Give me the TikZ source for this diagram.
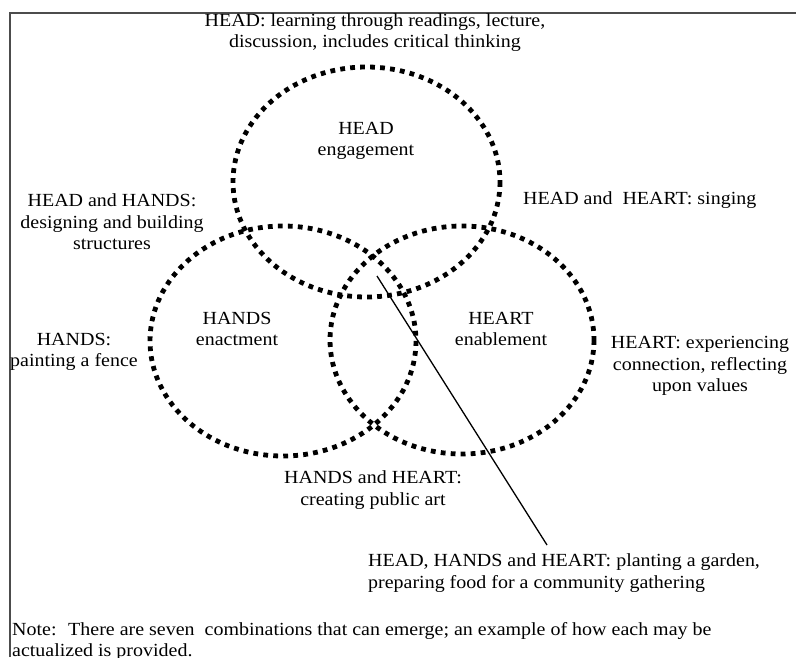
\documentclass[tikz,border=0pt]{standalone}
\usepackage{fontspec}
\setmainfont{Liberation Serif}[FakeStretch=1.08]
\begin{document}
\begin{tikzpicture}[x=1pt,y=-1pt,
  lbl/.style={font=\fontsize{18.5}{21.5}\selectfont, align=center, inner sep=0pt},
  dotring/.style={line width=4.8pt, dash pattern=on 4.8pt off 5.2pt, black},
  frameline/.style={line width=1.6pt, black!70}]
\useasboundingbox (0,0) rectangle (796,657);
% frame
\draw[frameline] (10,657) -- (10,13) -- (796,13);
% circles
\draw[dotring] (366.5,182) ellipse [x radius=133.5, y radius=115];
\draw[dotring] (283,341) ellipse [x radius=133, y radius=115];
\draw[dotring] (462,340) ellipse [x radius=132, y radius=114];
% labels
\node[lbl] (headtop) at (375,32.5) {HEAD: learning through readings, lecture,\\discussion, includes critical thinking};
\node[lbl] (head) at (366,141) {HEAD\\engagement};
\node[lbl] (headhands) at (112,222) {HEAD and HANDS:\\designing and building\\structures};
\node[lbl, anchor=west] (headheart) at (523,200) {HEAD and \ HEART: singing};
\node[lbl] (hands) at (237,329) {HANDS\\enactment};
\node[lbl] (heart) at (501,329) {HEART\\enablement};
\node[lbl] (handsonly) at (74,352) {HANDS:\\painting a fence};
\node[lbl] (heartonly) at (700,366) {HEART: experiencing\\connection, reflecting\\upon values};
\node[lbl] (handsheart) at (373,490) {HANDS and HEART:\\creating public art};
\node[lbl, anchor=west, align=left] (all) at (368,573) {HEAD, HANDS and HEART: planting a garden,\\preparing food for a community gathering};
\node[lbl, anchor=north west, align=left] (note) at (12,622) {Note: \ There are seven \ combinations that can emerge; an example of how each may be\\actualized is provided.};
% pointer
\coordinate (ptA) at (377,276);
\coordinate (ptB) at (547,545);
\draw[line width=1.3pt] (ptA) -- (ptB);
\end{tikzpicture}
\end{document}
